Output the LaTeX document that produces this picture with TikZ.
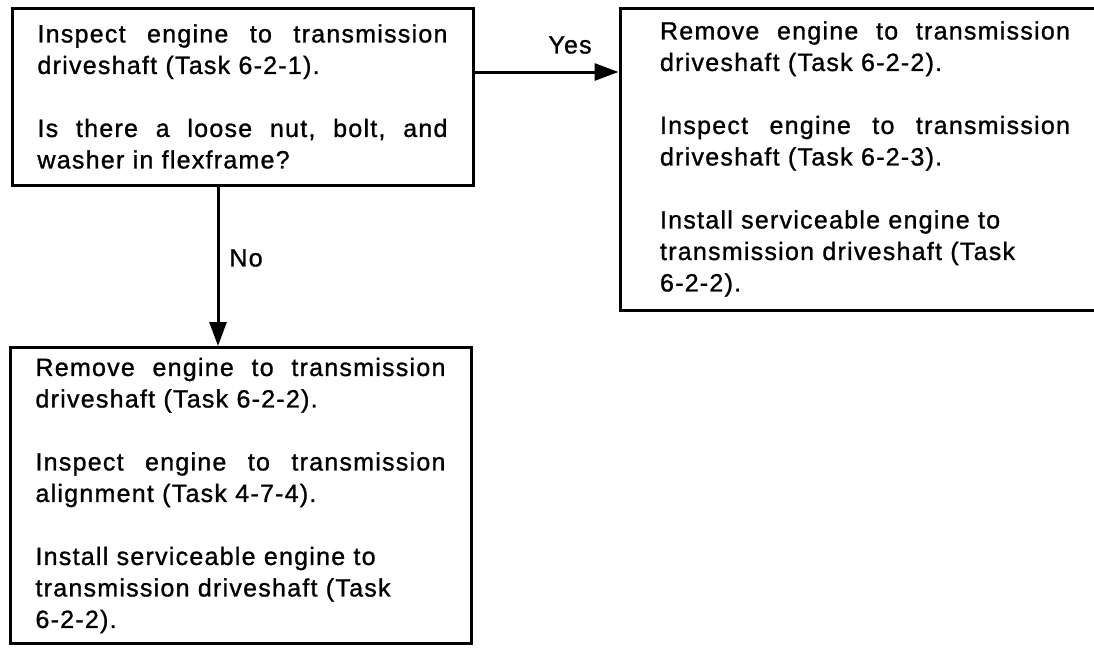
\documentclass[tikz,border=0pt]{standalone}
\usepackage{fontspec}
\setmainfont{Liberation Sans}[LetterSpace=5,FakeBold=1.1]
\usetikzlibrary{arrows.meta}
\newcommand{\jline}[1]{\leavevmode\hbox to 410pt{#1}}
\begin{document}
\begin{tikzpicture}[x=1pt,y=-1pt,
  box/.style={draw, line width=3pt, text width=410pt, align=left,
    inner xsep=0pt, inner ysep=0pt, font=\fontsize{25}{31.5}\selectfont},
  arr/.style={line width=3pt, -{Triangle[length=24pt,width=17pt]}},
  lbl/.style={font=\fontsize{25}{28}\selectfont, inner sep=0pt}]
\useasboundingbox (0,0) rectangle (1094,648);
\node[box, minimum width=461pt, minimum height=177pt] (q) at (242.5,96.5)
  {\jline{Inspect\hfill engine\hfill to\hfill transmission}\\
   driveshaft (Task 6-2-1).\\[31.5pt]
   \jline{Is\hfill there\hfill a\hfill loose\hfill nut,\hfill bolt,\hfill and}\\
   washer in flexframe?};
\node[box, minimum width=490pt, minimum height=302pt] (r) at (865,159)
  {\jline{Remove\hfill engine\hfill to\hfill transmission}\\
   driveshaft (Task 6-2-2).\\[31.5pt]
   \jline{Inspect\hfill engine\hfill to\hfill transmission}\\
   driveshaft (Task 6-2-3).\\[31.5pt]
   Install serviceable engine to\\
   transmission driveshaft (Task\\
   6-2-2).};
\node[box, minimum width=461pt, minimum height=296pt] (d) at (240.5,495.5)
  {\jline{Remove\hfill engine\hfill to\hfill transmission}\\
   driveshaft (Task 6-2-2).\\[31.5pt]
   \jline{Inspect\hfill engine\hfill to\hfill transmission}\\
   alignment (Task 4-7-4).\\[31.5pt]
   Install serviceable engine to\\
   transmission driveshaft (Task\\
   6-2-2).};
\draw[arr] ([yshift=24.5pt]q.east) -- ([yshift=24.5pt]q.east -| r.west);
\draw[arr] ([xshift=-24.5pt]q.south) -- ([xshift=-24.5pt]q.south |- d.north);
\node[lbl] (yes) at (570,45) {Yes};
\node[lbl] (no) at (246,258) {No};
\end{tikzpicture}
\end{document}
